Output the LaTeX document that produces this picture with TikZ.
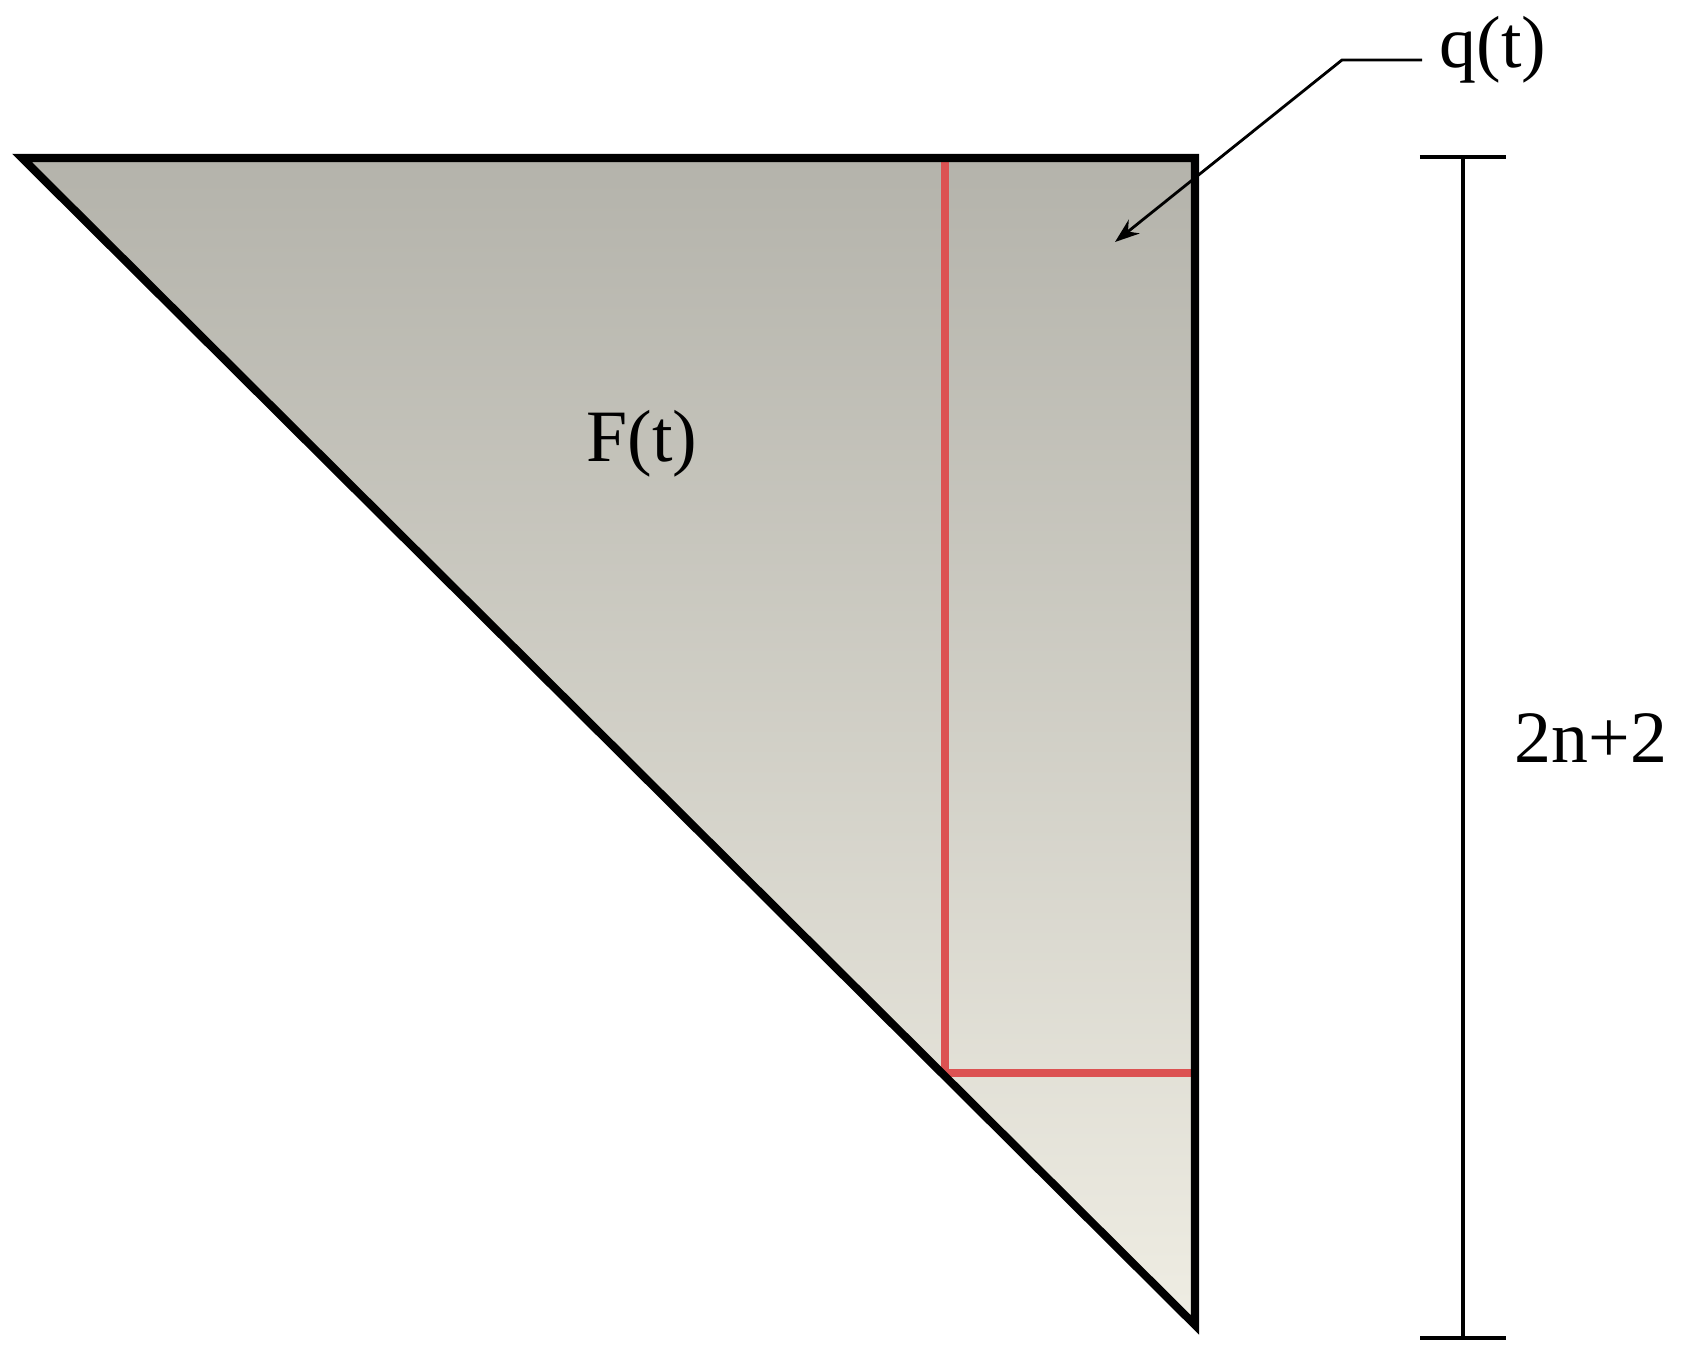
\documentclass[tikz,border=0pt]{standalone}
\usepackage{fontspec}
\setmainfont{Liberation Serif}
\usetikzlibrary{arrows.meta}
\definecolor{shadetop}{RGB}{180,179,171}
\definecolor{shadebot}{RGB}{239,237,227}
\definecolor{redline}{RGB}{220,82,82}
\tikzset{
  label/.style={font=\fontsize{21}{25}\selectfont, inner sep=0pt},
  edge/.style={draw=black, line width=2.3pt, line join=miter},
  cut/.style={draw=redline, line width=2pt}
}
\begin{document}
\begin{tikzpicture}[x=0.01cm,y=-0.01cm]
\useasboundingbox (0,0) rectangle (1684,1371);
\coordinate (tl) at (22,158);
\coordinate (tr) at (1195,158);
\coordinate (br) at (1195,1325);
\coordinate (rc) at (945,1073);

\shade[top color=shadetop,bottom color=shadebot] (tl) -- (tr) -- (br) -- cycle;
\draw[cut] (945,160) -- (rc) -- (1191,1073);
\draw[edge] (tl) -- (tr) -- (br) -- cycle;

\node[label] (ft) at (642,444) {F(t)};
\node[label,anchor=west] (qt) at (1439,50) {q(t)};
\coordinate (bend) at (1342,60);
\coordinate (qtip) at (1115,242);
\draw[line width=0.8pt,-{Stealth[length=7pt,width=5pt]}] ([xshift=-0.17cm]qt.west |- bend) -- (bend) -- (qtip);

\coordinate (dimtop) at (1463,155);
\coordinate (dimbot) at (1463,1340);
\draw[line width=1pt,{Bar[width=0.86cm]}-{Bar[width=0.86cm]}] (dimtop) -- (dimbot);
\node[label,anchor=west] (dim) at (1514,738) {2n+2};
\end{tikzpicture}
\end{document}
